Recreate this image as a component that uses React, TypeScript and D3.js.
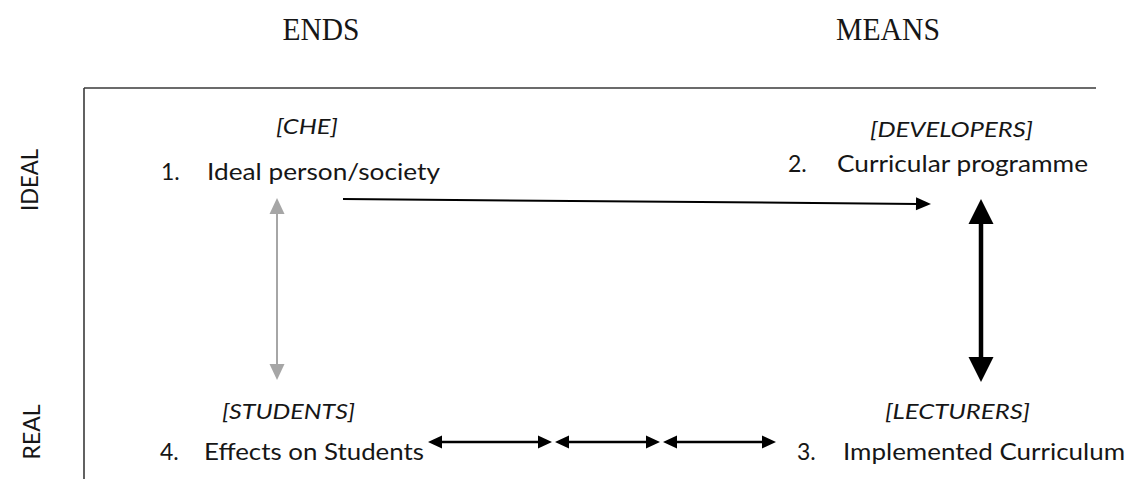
import React, { useEffect, useRef } from 'react';
import * as d3 from 'd3';

// ---------- data ----------
const columns = ['ENDS', 'MEANS'];
const rows = ['IDEAL', 'REAL'];
const actors = ['[CHE]', '[DEVELOPERS]', '[LECTURERS]', '[STUDENTS]'];
const items = ['Ideal person/society', 'Curricular programme', 'Implemented Curriculum', 'Effects on Students'];
const itemNumbers = ['1.', '2.', '3.', '4.'];
// which cell each item sits in: [column, row]
const itemCells: [string, string][] = [
  ['ENDS', 'IDEAL'],
  ['MEANS', 'IDEAL'],
  ['MEANS', 'REAL'],
  ['ENDS', 'REAL'],
];
// links between items (index pairs)
const links: { from: number; to: number; kind: string }[] = [
  { from: 0, to: 1, kind: 'one-way' },
  { from: 1, to: 2, kind: 'strong' },
  { from: 0, to: 3, kind: 'faint' },
  { from: 3, to: 2, kind: 'chain' },
];

type Pt = [number, number];

const App: React.FC = () => {
  const ref = useRef<SVGSVGElement>(null);

  useEffect(() => {
    const svg = d3.select(ref.current);
    svg.selectAll('*').remove();

    /* ---------- layout ---------- */
    const W = 1134;
    const H = 487;
    const frame = { left: 84, top: 88, right: 1096 };
    const sans = 'Lato, "Open Sans", sans-serif';
    const ink = '#161616';

    const colX = d3.scalePoint<string>().domain(columns).range([321, 888]);
    const rowY = d3.scalePoint<string>().domain(rows).range([180, 432]);

    // per-cell text layout (actor label + numbered item)
    const cellText: Record<string, any> = {
      'ENDS|IDEAL': { actorX: 276, actorW: 62, actorY: 134, numX: 161, itemX: 207, itemW: 233, itemY: 180 },
      'MEANS|IDEAL': { actorX: 870, actorW: 163, actorY: 137, numX: 788, itemX: 837, itemW: 251, itemY: 172 },
      'MEANS|REAL': { actorX: 885, actorW: 145, actorY: 419, numX: 797, itemX: 843, itemW: 282, itemY: 460 },
      'ENDS|REAL': { actorX: 222, actorW: 133, actorY: 419, numX: 160, itemX: 204, itemW: 220, itemY: 460 },
    };

    /* ---------- headers ---------- */
    svg
      .selectAll('text.col-head')
      .data(columns)
      .enter()
      .append('text')
      .attr('class', 'col-head')
      .attr('x', d => colX(d)!)
      .attr('y', 40)
      .attr('text-anchor', 'middle')
      .attr('textLength', d => (d === 'ENDS' ? 77 : 104))
      .attr('lengthAdjust', 'spacingAndGlyphs')
      .style('font-family', '"Liberation Serif", serif')
      .style('font-size', '31px')
      .style('fill', ink)
      .text(d => d);

    svg
      .selectAll('text.row-head')
      .data(rows)
      .enter()
      .append('text')
      .attr('class', 'row-head')
      .attr('transform', d => `translate(${d === 'IDEAL' ? 38 : 40},${rowY(d)}) rotate(-90)`)
      .attr('text-anchor', 'middle')
      .attr('textLength', d => (d === 'IDEAL' ? 62 : 55))
      .attr('lengthAdjust', 'spacingAndGlyphs')
      .style('font-family', sans)
      .style('font-size', '23px')
      .style('fill', ink)
      .text(d => d);

    /* ---------- frame lines ---------- */
    svg
      .append('line')
      .attr('x1', frame.left)
      .attr('x2', frame.right)
      .attr('y1', frame.top)
      .attr('y2', frame.top)
      .attr('stroke', '#3a3a3a')
      .attr('stroke-width', 1.6);
    svg
      .append('line')
      .attr('x1', frame.left)
      .attr('x2', frame.left)
      .attr('y1', frame.top)
      .attr('y2', H)
      .attr('stroke', '#3a3a3a')
      .attr('stroke-width', 1.6);

    /* ---------- cell texts ---------- */
    items.forEach((item, i) => {
      const [c, r] = itemCells[i];
      const t = cellText[`${c}|${r}`];
      svg
        .append('text')
        .attr('x', t.actorX)
        .attr('y', t.actorY)
        .attr('textLength', t.actorW)
        .attr('lengthAdjust', 'spacingAndGlyphs')
        .style('font-family', sans)
        .style('font-style', 'italic')
        .style('font-size', '22px')
        .style('fill', ink)
        .text(actors[i]);
      svg
        .append('text')
        .attr('x', t.numX)
        .attr('y', t.itemY)
        .style('font-family', sans)
        .style('font-size', '23px')
        .style('fill', ink)
        .text(itemNumbers[i]);
      svg
        .append('text')
        .attr('x', t.itemX)
        .attr('y', t.itemY)
        .attr('textLength', t.itemW)
        .attr('lengthAdjust', 'spacingAndGlyphs')
        .style('font-family', sans)
        .style('font-size', '24px')
        .style('fill', ink)
        .text(item);
    });

    /* ---------- arrows ---------- */
    const head = (tip: Pt, from: Pt, len: number, half: number) => {
      const dx = tip[0] - from[0];
      const dy = tip[1] - from[1];
      const d = Math.hypot(dx, dy);
      const ux = dx / d;
      const uy = dy / d;
      const bx = tip[0] - ux * len;
      const by = tip[1] - uy * len;
      return `M${tip[0]},${tip[1]}L${bx - uy * half},${by + ux * half}L${bx + uy * half},${by - ux * half}Z`;
    };

    const arrow = (a: Pt, b: Pt, o: { color: string; w: number; len: number; half: number; both: boolean }) => {
      const g = svg.append('g');
      const d = Math.hypot(b[0] - a[0], b[1] - a[1]);
      const ux = (b[0] - a[0]) / d;
      const uy = (b[1] - a[1]) / d;
      const start: Pt = o.both ? [a[0] + ux * (o.len - 2), a[1] + uy * (o.len - 2)] : a;
      const end: Pt = [b[0] - ux * (o.len - 2), b[1] - uy * (o.len - 2)];
      g.append('path')
        .attr('d', d3.line()([start, end]))
        .attr('stroke', o.color)
        .attr('stroke-width', o.w)
        .attr('fill', 'none');
      g.append('path').attr('d', head(b, a, o.len, o.half)).attr('fill', o.color);
      if (o.both) g.append('path').attr('d', head(a, b, o.len, o.half)).attr('fill', o.color);
    };

    links.forEach(l => {
      if (l.kind === 'one-way') {
        arrow([343, 199], [931, 204], { color: '#000', w: 2, len: 15, half: 6.5, both: false });
      } else if (l.kind === 'strong') {
        arrow([981, 199], [981, 382], { color: '#000', w: 4.5, len: 25, half: 12.5, both: true });
      } else if (l.kind === 'faint') {
        arrow([277, 198], [277, 380], { color: '#a6a6a6', w: 2, len: 16, half: 7.5, both: true });
      } else if (l.kind === 'chain') {
        const segs: [number, number][] = [
          [428, 552],
          [555, 660],
          [663, 776],
        ];
        segs.forEach(([x1, x2]) =>
          arrow([x1, 442], [x2, 442], { color: '#000', w: 2.5, len: 14, half: 6.5, both: true })
        );
      }
    });

    svg.attr('width', W).attr('height', H);
  }, []);

  return (
    <div style={{ margin: -8, background: '#fff', width: 1134, height: 487 }}>
      <svg ref={ref} width={1134} height={487} style={{ display: 'block' }} />
    </div>
  );
};

export default App;
